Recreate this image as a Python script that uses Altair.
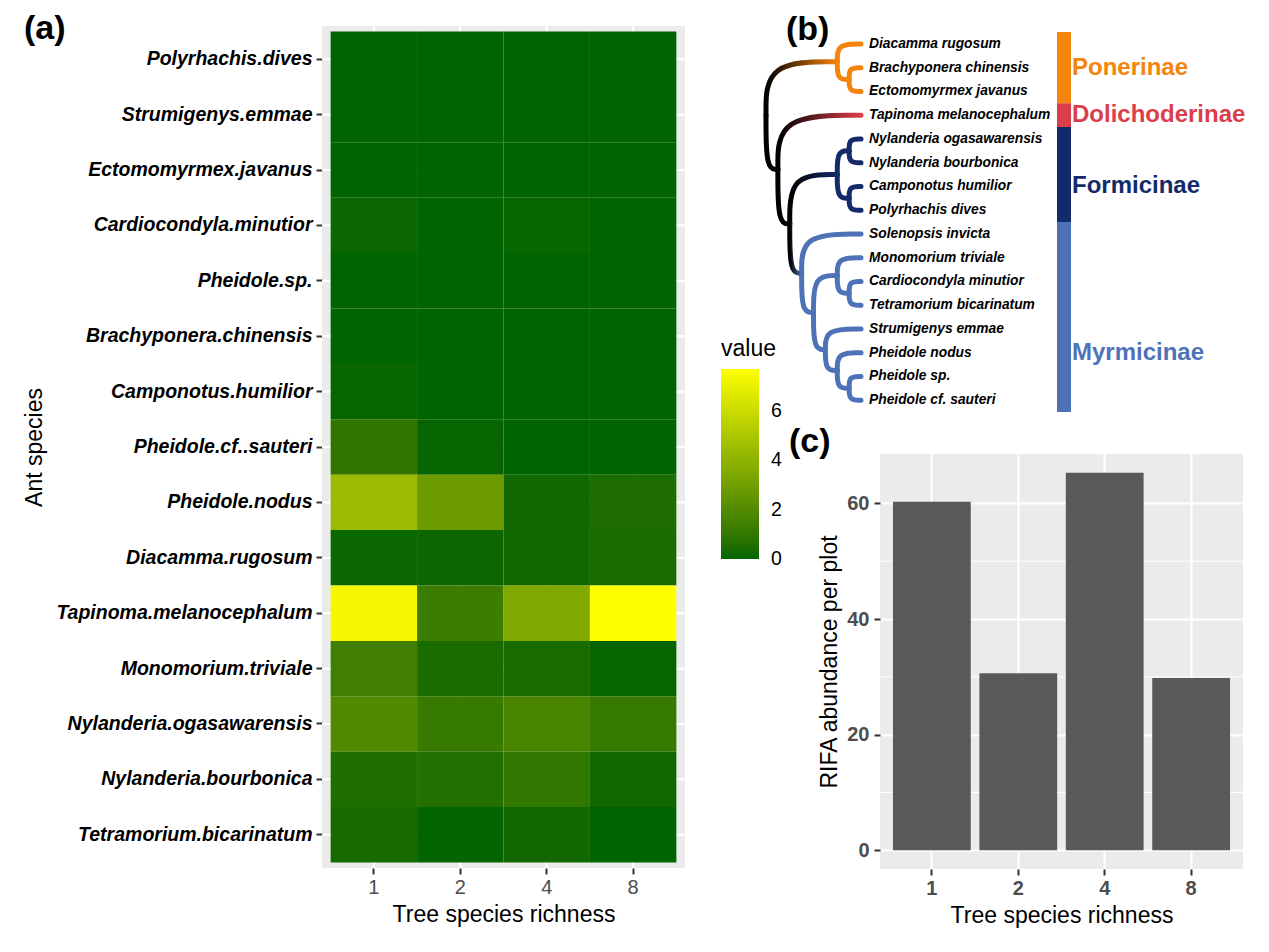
import altair as alt
import pandas as pd

FONT = "Liberation Sans"

# ---------------- (a) heatmap data ----------------
species = ["Polyrhachis.dives", "Strumigenys.emmae", "Ectomomyrmex.javanus",
           "Cardiocondyla.minutior", "Pheidole.sp.", "Brachyponera.chinensis",
           "Camponotus.humilior", "Pheidole.cf..sauteri", "Pheidole.nodus",
           "Diacamma.rugosum", "Tapinoma.melanocephalum", "Monomorium.triviale",
           "Nylanderia.ogasawarensis", "Nylanderia.bourbonica", "Tetramorium.bicarinatum"]
richness = ["1", "2", "4", "8"]
value_r1 = [0, 0, 0, 0.13, 0, 0, 0.10, 0.95, 4.4, 0.13, 7.37, 1.40, 1.95, 0.50, 0.30]
value_r2 = [0, 0, 0, 0, 0, 0, 0, 0.07, 2.8, 0.15, 1.30, 0.40, 1.15, 0.60, 0.04]
value_r4 = [0, 0, 0, 0.08, 0, 0, 0, 0, 0.20, 0.23, 3.50, 0.40, 1.73, 1.00, 0.23]
value_r8 = [0, 0, 0, 0, 0, 0, 0, 0, 0.48, 0.40, 7.68, 0.07, 1.07, 0.22, 0]
legend_ticks = [0, 2, 4, 6]

# ---------------- (b) phylogeny data ----------------
clade_ponerinae = "(Diacamma rugosum,(Brachyponera chinensis,Ectomomyrmex javanus))"
clade_formicinae = "((Nylanderia ogasawarensis,Nylanderia bourbonica),(Camponotus humilior,Polyrhachis dives))"
clade_d = "(Monomorium triviale,(Cardiocondyla minutior,Tetramorium bicarinatum))"
clade_e = "(Strumigenys emmae,(Pheidole nodus,(Pheidole sp.,Pheidole cf. sauteri)))"
clade_myrmicinae = "(Solenopsis invicta,(" + clade_d + "," + clade_e + "))"
newick = ("(" + clade_ponerinae + ",(Tapinoma melanocephalum,(" + clade_formicinae
          + "," + clade_myrmicinae + ")));")
tip_subfamily = ["Ponerinae", "Ponerinae", "Ponerinae", "Dolichoderinae",
                 "Formicinae", "Formicinae", "Formicinae", "Formicinae",
                 "Myrmicinae", "Myrmicinae", "Myrmicinae", "Myrmicinae",
                 "Myrmicinae", "Myrmicinae", "Myrmicinae", "Myrmicinae"]
subfamilies = ["Ponerinae", "Dolichoderinae", "Formicinae", "Myrmicinae"]
subfamily_colors = ["#F5840C", "#DC3D4B", "#132A6B", "#4E72B8"]
subfamily_label_rows = [1, 3, 6, 13]

# ---------------- (c) bar data ----------------
rifa_abundance = [60.3, 30.6, 65.3, 29.8]
rifa_major_ticks = [0, 20, 40, 60]
rifa_minor_ticks = [10, 30, 50]

TITLE_KW = dict(anchor="start", frame="group", offset=0, baseline="bottom", font=FONT,
                fontSize=34, fontWeight="bold", color="black")

# =============== (a) heatmap ===============
heat_rows = []
for r, vals in zip(richness, [value_r1, value_r2, value_r4, value_r8]):
    for sp, v in zip(species, vals):
        heat_rows.append({"species": sp, "richness": r, "value": v})
heat_df = pd.DataFrame(heat_rows)
vmin = float(heat_df["value"].min())
vmax = float(heat_df["value"].max())

xA_scale = alt.Scale(paddingInner=0, paddingOuter=0.1)
yA_scale = alt.Scale(paddingInner=0, paddingOuter=0.1)
xA_axis = alt.Axis(title="Tree species richness", labelAngle=0, labelFont=FONT,
                   labelFontSize=20, labelColor="#4d4d4d", labelPadding=3,
                   tickColor="#333333", tickSize=6, tickWidth=2, domain=False, grid=False,
                   titleFont=FONT, titleFontSize=23, titleFontWeight="normal",
                   titleColor="black", titlePadding=6)
yA_axis = alt.Axis(title="Ant species", labelFont=FONT, labelFontSize=19.5,
                   labelFontStyle="italic", labelFontWeight="bold", labelColor="black",
                   labelLimit=500, labelPadding=4, tickColor="#333333", tickSize=6,
                   tickWidth=2, domain=False, grid=False, titleFont=FONT, titleFontSize=23,
                   titleFontWeight="normal", titleColor="black", titleBaseline="bottom",
                   titleX=-276, titleY=421)
xA = alt.X("richness:N", sort=richness, scale=xA_scale, axis=xA_axis)
yA = alt.Y("species:N", sort=species, scale=yA_scale, axis=yA_axis)

grid_h = alt.Chart(pd.DataFrame({"species": species})).mark_rule(
    color="white", strokeWidth=2.2).encode(y=yA)
grid_v = alt.Chart(pd.DataFrame({"richness": richness})).mark_rule(
    color="white", strokeWidth=2.2).encode(x=xA)
tiles = alt.Chart(heat_df).mark_rect().encode(
    x=xA,
    y=yA,
    color=alt.Color("value:Q",
                    scale=alt.Scale(domain=[vmin - 0.001, vmax], range=["darkgreen", "yellow"],
                                    interpolate="lab"),
                    legend=alt.Legend(title="value", orient="none", legendX=399, legendY=312,
                                      direction="vertical", gradientLength=190,
                                      gradientThickness=38, gradientStrokeWidth=0,
                                      values=legend_ticks, titleFont=FONT, titleFontSize=23,
                                      titleFontWeight="normal", titleColor="black",
                                      titlePadding=8, labelFont=FONT, labelFontSize=19.5,
                                      labelColor="black", labelOffset=12,
                                      labelBaseline="middle")),
)
heat = alt.layer(grid_h, grid_v, tiles).properties(
    width=363, height=842,
    view=alt.ViewBackground(fill="#EBEBEB", stroke=None),
    title=alt.TitleParams("(a)", dx=-298, dy=55, **TITLE_KW),
)

# =============== (b) phylogeny ===============
def parse_newick(s):
    pos = [0]

    def node():
        if s[pos[0]] == "(":
            pos[0] += 1
            kids = [node()]
            while s[pos[0]] == ",":
                pos[0] += 1
                kids.append(node())
            pos[0] += 1
            return {"name": None, "kids": kids}
        start = pos[0]
        while s[pos[0]] not in ",();":
            pos[0] += 1
        return {"name": s[start:pos[0]].strip(), "kids": []}

    return node()


tree = parse_newick(newick)
tip_names = []


def place(n):
    if not n["kids"]:
        n["row"] = len(tip_names)
        tip_names.append(n["name"])
        n["height"] = 0
        n["subs"] = {tip_subfamily[n["row"]]}
        return
    for k in n["kids"]:
        place(k)
    n["row"] = sum(k["row"] for k in n["kids"]) / len(n["kids"])
    n["height"] = 1 + max(k["height"] for k in n["kids"])
    n["subs"] = set().union(*(k["subs"] for k in n["kids"]))


place(tree)
depth = tree["height"]
edge_rows = []
edge_count = [0]


def collect(n):
    for k in n["kids"]:
        px, py = depth - n["height"], n["row"]
        cx, cy = depth - k["height"], k["row"]
        if len(k["subs"]) == 1:
            grp = next(iter(k["subs"]))
            kind = "solid" if len(n["subs"]) == 1 else "fade"
        else:
            grp, kind = "backbone", "solid"
        eid = edge_count[0]
        edge_count[0] += 1
        for o, (x, y) in enumerate([(px, py), (px, cy), (cx, cy)]):
            edge_rows.append({"edge": eid, "order": o, "lvl": x, "row": y,
                              "group": grp, "kind": kind})
        collect(k)


collect(tree)
edge_df = pd.DataFrame(edge_rows)

n_tips = len(tip_names)
xsB = alt.Scale(domain=[0, depth], range=[-114, -19])
ysB = alt.Scale(domain=[-0.5, n_tips - 0.5], range=[6, 386], nice=False, zero=False)
colB = alt.Scale(domain=subfamilies + ["backbone"], range=subfamily_colors + ["black"])

line_kw = dict(interpolate="basis", strokeWidth=5, strokeCap="round")
solid_lines = alt.Chart(edge_df[edge_df["kind"] == "solid"]).mark_line(**line_kw).encode(
    x=alt.X("lvl:Q", scale=xsB, axis=None),
    y=alt.Y("row:Q", scale=ysB, axis=None),
    color=alt.Color("group:N", scale=colB, legend=None),
    detail="edge:N",
    order="order:Q",
)
fade_layers = []
for sub, col in zip(subfamilies, subfamily_colors):
    sub_df = edge_df[(edge_df["kind"] == "fade") & (edge_df["group"] == sub)]
    if len(sub_df) == 0:
        continue
    grad = alt.Gradient(gradient="linear",
                        stops=[alt.GradientStop(offset=0, color="black"),
                               alt.GradientStop(offset=1, color=col)],
                        x1=0, x2=1, y1=0, y2=0)
    fade_layers.append(
        alt.Chart(sub_df).mark_line(stroke=grad, **line_kw).encode(
            x=alt.X("lvl:Q", scale=xsB, axis=None),
            y=alt.Y("row:Q", scale=ysB, axis=None),
            detail="edge:N",
            order="order:Q",
        )
    )

tips_df = pd.DataFrame({"name": tip_names, "row": list(range(n_tips)), "lvl": [depth] * n_tips})
tip_text = alt.Chart(tips_df).mark_text(align="left", baseline="middle", dx=8, font=FONT,
                                        fontSize=13.8, fontStyle="italic", fontWeight="bold",
                                        color="black").encode(
    x=alt.X("lvl:Q", scale=xsB, axis=None),
    y=alt.Y("row:Q", scale=ysB, axis=None),
    text="name:N",
)

bar_rows = []
for sub, lab_row in zip(subfamilies, subfamily_label_rows):
    idx = [i for i, s in enumerate(tip_subfamily) if s == sub]
    bar_rows.append({"subfamily": sub, "y0": min(idx) - 0.5, "y1": max(idx) + 0.5,
                     "label_row": lab_row})
bar_df = pd.DataFrame(bar_rows)
sub_bar = alt.Chart(bar_df).mark_rect().encode(
    x=alt.value(177), x2=alt.value(191),
    y=alt.Y("y0:Q", scale=ysB, axis=None), y2="y1:Q",
    color=alt.Color("subfamily:N", scale=colB, legend=None),
)
sub_text = alt.Chart(bar_df).mark_text(align="left", baseline="middle", font=FONT,
                                       fontSize=24, fontWeight="bold").encode(
    x=alt.value(192),
    y=alt.Y("label_row:Q", scale=ysB, axis=None),
    text="subfamily:N",
    color=alt.Color("subfamily:N", scale=colB, legend=None),
)

phylo = alt.layer(solid_lines, *fade_layers, tip_text, sub_bar, sub_text).properties(
    width=363, height=392,
    title=alt.TitleParams("(b)", dx=-94, dy=55, **TITLE_KW),
)

# =============== (c) bar chart ===============
rifa_df = pd.DataFrame({"richness": richness, "rifa": rifa_abundance})
ymax = max(rifa_abundance)
ysC = alt.Scale(domain=[-0.05 * ymax, 1.05 * ymax], nice=False, zero=False)
yC_axis = alt.Axis(title="RIFA abundance per plot", values=rifa_major_ticks,
                   labelFont=FONT, labelFontSize=20, labelFontWeight="bold",
                   labelColor="#4d4d4d", labelPadding=5, tickColor="#333333",
                   tickSize=6, tickWidth=2, domain=False, grid=True,
                   gridColor="white", gridWidth=2.2, titleFont=FONT,
                   titleFontSize=23, titleFontWeight="normal", titleColor="black",
                   titlePadding=5)
xC_axis = alt.Axis(title="Tree species richness", labelAngle=0, labelFont=FONT,
                   labelFontSize=20, labelFontWeight="bold", labelColor="#4d4d4d",
                   labelPadding=3, tickColor="#333333", tickSize=6, tickWidth=2,
                   domain=False, grid=True, gridColor="white", gridWidth=2.2,
                   titleFont=FONT, titleFontSize=23, titleFontWeight="normal",
                   titleColor="black", titlePadding=6)

minor = alt.Chart(pd.DataFrame({"rifa": rifa_minor_ticks})).mark_rule(
    color="white", strokeWidth=1.1).encode(y=alt.Y("rifa:Q", scale=ysC, axis=yC_axis))
bars = alt.Chart(rifa_df).mark_bar(color="#595959").encode(
    x=alt.X("richness:N", sort=richness,
            scale=alt.Scale(paddingInner=0.1, paddingOuter=0.15), axis=xC_axis),
    y=alt.Y("rifa:Q", scale=ysC, axis=yC_axis),
)
barchart = alt.layer(minor, bars).properties(
    width=363, height=415,
    view=alt.ViewBackground(fill="#EBEBEB", stroke=None),
    title=alt.TitleParams("(c)", dx=-91, dy=39, **TITLE_KW),
)

right = alt.vconcat(phylo, barchart, spacing=36, bounds="flush")
chart = alt.hconcat(heat, right, spacing=195, bounds="flush").resolve_scale(
    color="independent"
).properties(
    padding={"left": 15, "top": 3, "right": 5, "bottom": 5}
).configure_view(stroke=None)

chart.save("out.html", embed_options={"renderer": "svg", "actions": False})
